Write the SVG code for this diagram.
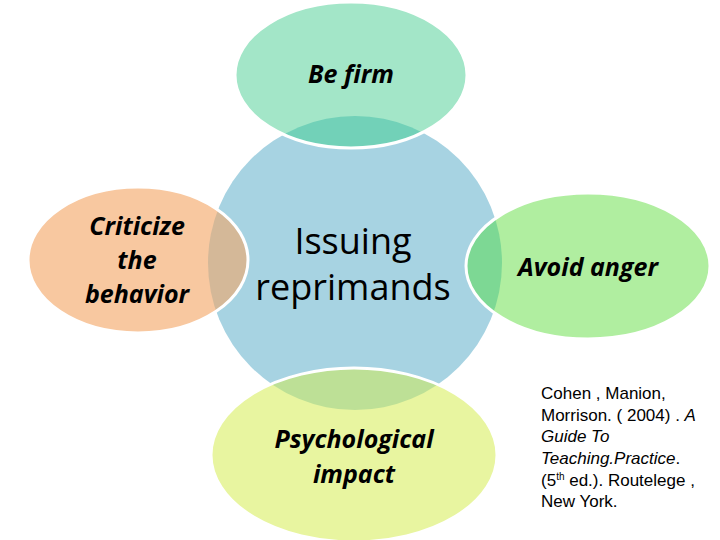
<svg xmlns="http://www.w3.org/2000/svg" width="720" height="540" viewBox="0 0 720 540">
<defs>
<clipPath id="cTop"><ellipse cx="351" cy="75" rx="116" ry="73"/></clipPath>
<clipPath id="cLeft"><ellipse cx="138" cy="260" rx="110" ry="73"/></clipPath>
<clipPath id="cRight"><ellipse cx="588" cy="266" rx="122" ry="73"/></clipPath>
<clipPath id="cBottom"><ellipse cx="354" cy="455" rx="143" ry="87"/></clipPath>
</defs>
<style>
.lbl{font-family:"Open Sans","Noto Sans",sans-serif;font-weight:bold;font-style:italic;font-size:25px;fill:#000;text-anchor:middle}
.ctr{font-family:"Open Sans","Noto Sans",sans-serif;font-size:36px;fill:#000;text-anchor:middle}
.ref{font-family:"Liberation Sans",Arial,sans-serif;font-size:17px;fill:#000}
.edge{fill:none;stroke:#fff;stroke-width:3}
</style>
<rect width="720" height="540" fill="#fff"/>
<g id="center">
<circle cx="355" cy="263" r="147" fill="#A7D3E2"/>
</g>
<g id="top">
<ellipse cx="351" cy="75" rx="116" ry="73" fill="#A3E6C8"/>
<circle cx="355" cy="263" r="147" fill="#72D1B8" clip-path="url(#cTop)"/>
<ellipse class="edge" cx="351" cy="75" rx="116" ry="73"/>
<text class="lbl" x="351" y="83">Be firm</text>
</g>
<g id="left">
<ellipse cx="138" cy="260" rx="110" ry="73" fill="#F8C8A0"/>
<circle cx="355" cy="263" r="147" fill="#D4B898" clip-path="url(#cLeft)"/>
<ellipse class="edge" cx="138" cy="260" rx="110" ry="73"/>
<text class="lbl" x="137" y="235">Criticize</text>
<text class="lbl" x="137" y="269">the</text>
<text class="lbl" x="137" y="303">behavior</text>
</g>
<g id="right">
<ellipse cx="588" cy="266" rx="122" ry="73" fill="#B0EEA0"/>
<circle cx="355" cy="263" r="147" fill="#7DD894" clip-path="url(#cRight)"/>
<ellipse class="edge" cx="588" cy="266" rx="122" ry="73"/>
<text class="lbl" x="588" y="276">Avoid anger</text>
</g>
<g id="bottom">
<ellipse cx="354" cy="455" rx="143" ry="87" fill="#E8F5A0"/>
<circle cx="355" cy="263" r="147" fill="#BDE096" clip-path="url(#cBottom)"/>
<ellipse class="edge" cx="354" cy="455" rx="143" ry="87"/>
<text class="lbl" x="354" y="448">Psychological</text>
<text class="lbl" x="354" y="483">impact</text>
</g>
<g id="center-label">
<text class="ctr" x="353" y="254">Issuing</text>
<text class="ctr" x="353" y="300">reprimands</text>
</g>
<g id="connectors"></g>
<g id="reference">
<text class="ref" x="541" y="399">Cohen , Manion,</text>
<text class="ref" x="541" y="421">Morrison. ( 2004) . <tspan font-style="italic">A</tspan></text>
<text class="ref" x="541" y="442" font-style="italic">Guide To</text>
<text class="ref" x="541" y="464" font-style="italic">Teaching.Practice<tspan font-style="normal">.</tspan></text>
<text class="ref" x="541" y="486">(5<tspan font-size="10" dy="-6">th</tspan><tspan dy="6">  ed.). Routelege ,</tspan></text>
<text class="ref" x="541" y="507">New York.</text>
</g>
</svg>
